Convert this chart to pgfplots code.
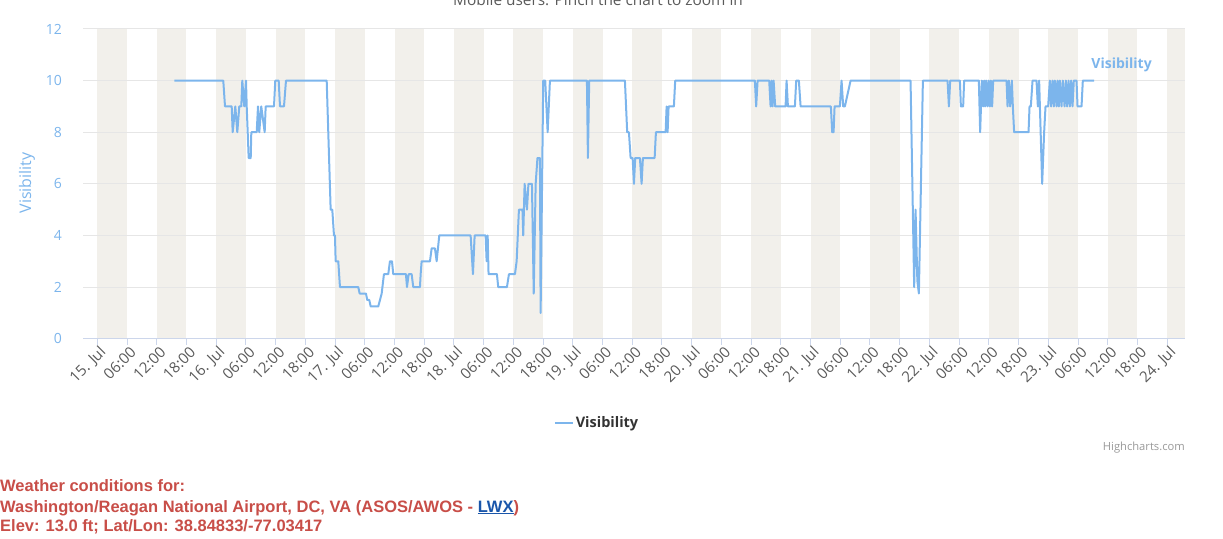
\documentclass[border=0pt]{standalone}
\usepackage{pgfplots}
\pgfplotsset{compat=1.18}
\usepackage{fontspec}
\setmainfont{Open Sans}
\newfontfamily\arialfont{Liberation Sans}
\definecolor{vis}{RGB}{124,181,236}
\definecolor{band}{RGB}{242,240,235}
\definecolor{gridc}{RGB}{230,230,230}
\definecolor{axc}{RGB}{204,214,235}
\definecolor{lab}{RGB}{90,90,90}
\definecolor{foot}{RGB}{200,78,72}
\definecolor{link}{RGB}{26,86,170}
\begin{document}
\begin{tikzpicture}[x=1pt,y=1pt]
\begin{axis}[
  set layers,
  at={(83.3pt,199.3pt)}, anchor=south west,
  scale only axis, width=1101.7pt, height=309.7pt,
  xmin=-2.83, xmax=219.6, ymin=0, ymax=12,
  axis x line*=bottom, axis y line*=left,
  x axis line style={draw=axc, line width=1pt, -},
  y axis line style={draw=none},
  ytick={0,2,...,12},
  ymajorgrids, grid style={draw=gridc, line width=1pt},
  ytick style={draw=none},
  xtick={0,6,...,216},
  xticklabels={15. Jul,06:00,12:00,18:00,16. Jul,06:00,12:00,18:00,17. Jul,06:00,12:00,18:00,18. Jul,06:00,12:00,18:00,19. Jul,06:00,12:00,18:00,20. Jul,06:00,12:00,18:00,21. Jul,06:00,12:00,18:00,22. Jul,06:00,12:00,18:00,23. Jul,06:00,12:00,18:00,24. Jul},
  tick align=outside, major tick length=6pt,
  xtick style={draw=axc, line width=1pt},
  xticklabel style={rotate=45, anchor=east, inner sep=0pt, yshift=-8pt, xshift=1pt, text=lab, font=\fontsize{15}{17}\selectfont},
  yticklabel style={text=vis, font=\fontsize{14}{16}\selectfont, xshift=-12pt},
  /pgf/number format/assume math mode=true,
  legend style={at={(0.4663,-0.272)}, anchor=center, draw=none, fill=none,
    font=\bfseries\fontsize{14.5}{16}\selectfont, text=black!80},
  legend image code/.code={\draw[#1] (-2pt,0pt) -- (16pt,0pt);},
]
\begin{pgfonlayer}{axis background}
\pgfplotsinvokeforeach{0,24,...,192}{
  \fill[band] (axis cs:#1,0) rectangle (axis cs:#1+6,12);
  \fill[band] (axis cs:#1+12,0) rectangle (axis cs:#1+18,12);
}
\fill[band] (axis cs:216,0) rectangle (axis cs:219.6,12);
\end{pgfonlayer}
\addplot[vis, line width=2pt, line join=round] table {
h v
15.54 10
25.43 10
25.78 9
27.13 9
27.33 8
27.86 9
28.26 8
28.66 9
29.07 9
29.27 10
29.67 9
30.02 10
30.16 9
30.56 7
30.97 7
31.09 8
32.18 8
32.44 9
32.70 8
33.10 9
33.79 8
33.99 9
35.67 9
35.93 10
36.62 10
36.88 9
37.69 9
38.09 10
46.31 10
47.11 5
47.44 5
47.78 4
47.98 4
48.12 3
48.65 3
48.99 2
52.68 2
52.97 1.75
54.24 1.75
54.50 1.5
54.91 1.5
55.19 1.25
56.72 1.25
57.07 1.5
57.41 1.75
57.87 2.5
58.74 2.5
59.08 3
59.49 3
59.75 2.5
62.31 2.5
62.52 2
62.86 2.5
63.46 2.5
63.79 2
65.14 2
65.28 2.5
65.48 3
67.16 3
67.50 3.5
68.17 3.5
68.51 3
69.04 4
75.37 4
75.84 2.5
76.18 4
78.40 4
78.60 3
78.81 4
78.99 2.5
80.68 2.5
80.94 2
82.70 2
83.11 2.5
84.32 2.5
84.66 3
85.12 5
85.83 5
85.99 4
86.27 6
86.74 5
87.04 6
87.75 6
88.11 1.75
88.50 6
88.86 7
89.36 7
89.50 1
90.03 10
90.43 10
90.92 8
91.38 10
98.85 10
99.05 7
99.31 10
106.52 10
106.98 8
107.33 8
107.67 7
108.08 7
108.34 6
108.60 7
109.55 7
109.89 6
110.15 7
112.52 7
112.78 8
114.74 8
114.94 9
115.14 8
115.34 9
116.41 9
116.67 10
132.76 10
133.02 9
133.31 10
135.65 10
135.93 9
136.13 10
136.33 9
136.54 10
136.86 9
138.96 9
139.16 10
139.43 9
140.84 9
141.10 10
141.64 10
141.99 9
148.10 9
148.37 8
148.65 8
148.85 9
149.92 9
150.26 10
150.59 9
150.93 9
152.08 10
164.19 10
164.92 2
165.20 5
165.56 2.25
165.87 1.75
166.68 10
171.66 10
171.93 9
172.19 10
174.15 10
174.35 9
174.81 9
175.01 10
177.98 10
178.24 8
178.58 10
178.85 9
179.05 10
179.25 9
179.45 10
179.73 9
179.94 10
180.20 9
180.40 10
180.66 9
180.87 10
183.57 10
183.77 9
184.03 10
184.30 9
184.64 10
184.84 9
185.10 8
188.01 8
188.21 9
188.47 9
188.82 10
189.62 10
189.89 9
190.15 10
190.76 6
191.16 8
191.44 9
191.97 9
192.31 10
192.57 9
192.85 10
193.12 9
193.32 10
193.66 9
193.86 10
194.13 9
194.33 10
194.67 9
194.93 10
195.28 9
195.54 10
195.80 9
196.09 10
196.35 9
196.61 10
196.89 9
197.15 10
197.70 10
197.90 9
198.71 9
198.97 10
201.25 10
};
\addlegendentry{Visibility}
\node[text=vis, font=\bfseries\fontsize{14}{16}\selectfont] at (axis cs:206.8,10.6) {Visibility};
\end{axis}
% y axis title
\node[rotate=90, text=vis, font=\fontsize{16}{18}\selectfont] at (27,355) {Visibility};
% cut-off title
\node[text=lab, font=\fontsize{15.4}{17}\selectfont, anchor=base] at (598,532) {Mobile users: Pinch the chart to zoom in};
% credits
\node[text=black!40, font=\fontsize{11.2}{13}\selectfont, anchor=base east, inner sep=0pt] at (1185,87) {Highcharts.com};
% footer
\begin{scope}[every node/.style={anchor=base west, inner sep=0pt, text=foot, font=\arialfont\bfseries\fontsize{16.5}{18}\selectfont}]
\node at (0,46) {Weather conditions for:};
\node at (0,26) {Washington/Reagan National Airport, DC, VA (ASOS/AWOS - {\color{link}\underline{LWX}})};
\node at (0,6) {Elev: 13.0 ft; Lat/Lon: 38.84833/-77.03417};
\end{scope}
\pgfresetboundingbox
\useasboundingbox (0,0) rectangle (1223,538);
\end{tikzpicture}
\end{document}
